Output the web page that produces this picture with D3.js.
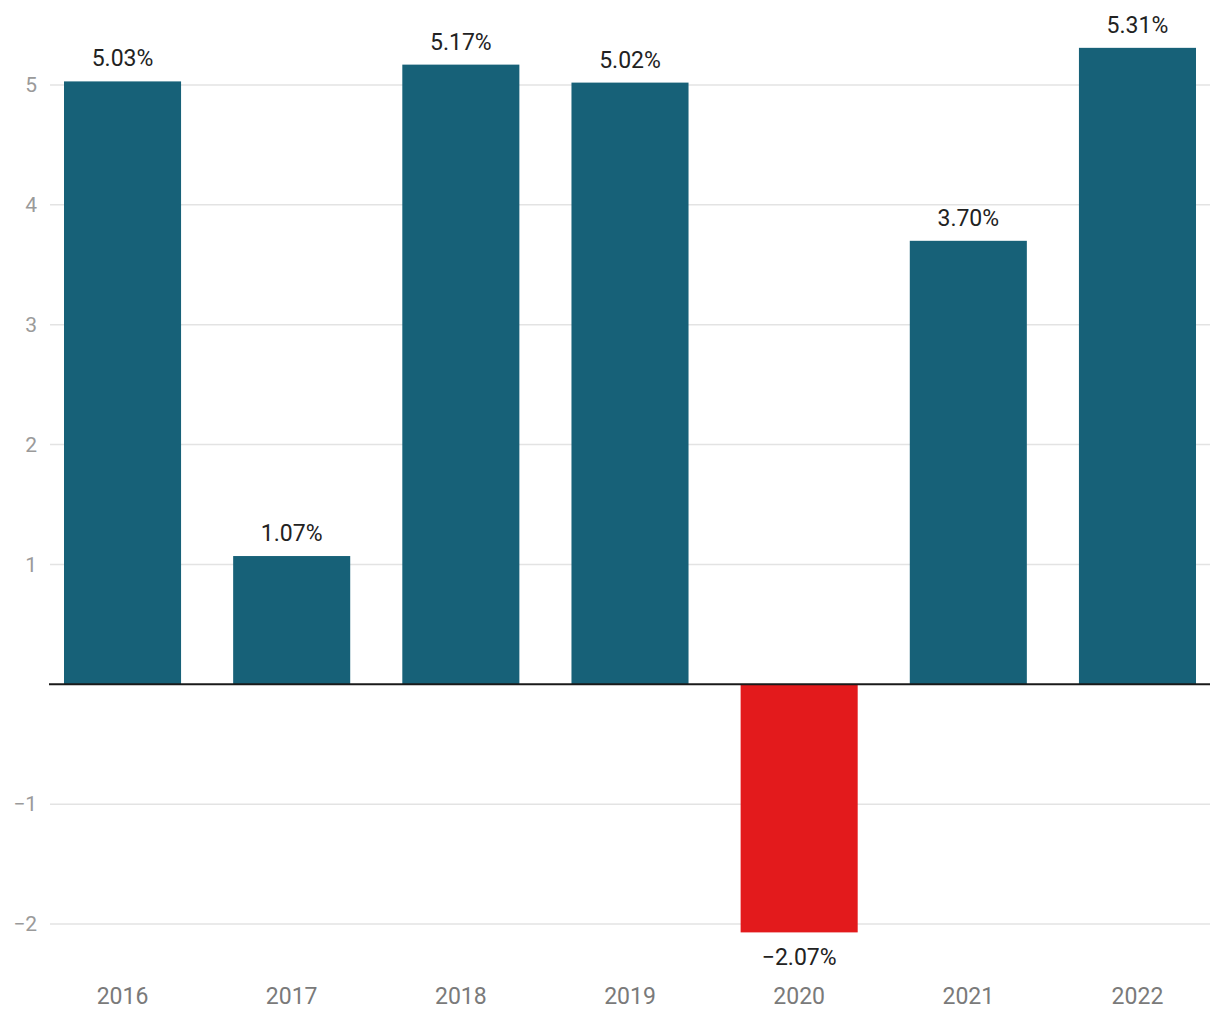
<!DOCTYPE html>
<html>
<head>
<meta charset="utf-8">
<script src="https://cdn.jsdelivr.net/npm/d3@7"></script>
<style>
  body { margin: 0; background: #fff; }
  svg text { font-family: Roboto, "Noto Sans", sans-serif; }
</style>
</head>
<body>
<div id="chart"></div>
<script>
var years = ["2016", "2017", "2018", "2019", "2020", "2021", "2022"];
var growth = [5.03, 1.07, 5.17, 5.02, -2.07, 3.70, 5.31];
var yTicks = [-2, -1, 1, 2, 3, 4, 5];

var width = 1220, height = 1020;

var svg = d3.select("#chart").append("svg")
  .attr("width", width)
  .attr("height", height);

var x = d3.scaleBand()
  .domain(years)
  .range([64, 1196])
  .paddingInner(0.308)
  .paddingOuter(0);

var y = d3.scaleLinear()
  .domain([-2, 5])
  .range([924, 85]);

// gridlines
svg.append("g")
  .selectAll("line")
  .data(yTicks)
  .enter().append("line")
  .attr("x1", 50)
  .attr("x2", 1210)
  .attr("y1", function(d) { return y(d); })
  .attr("y2", function(d) { return y(d); })
  .attr("stroke", "#e3e3e3")
  .attr("stroke-width", 1.5);

// y labels
svg.append("g")
  .selectAll("text")
  .data(yTicks)
  .enter().append("text")
  .attr("x", 37)
  .attr("y", function(d) { return y(d); })
  .attr("dy", "0.35em")
  .attr("text-anchor", "end")
  .attr("fill", "#9a9a9a")
  .style("font-size", "21px")
  .text(function(d) { return d < 0 ? "\u2212" + Math.abs(d) : d; });

// bars
svg.append("g")
  .selectAll("rect")
  .data(years)
  .enter().append("rect")
  .attr("x", function(d) { return x(d); })
  .attr("width", x.bandwidth())
  .attr("y", function(d, i) { return y(Math.max(0, growth[i])); })
  .attr("height", function(d, i) { return Math.abs(y(growth[i]) - y(0)); })
  .attr("fill", function(d, i) { return growth[i] < 0 ? "#e31a1c" : "#176178"; });

// zero line
svg.append("line")
  .attr("x1", 49)
  .attr("x2", 1210)
  .attr("y1", y(0))
  .attr("y2", y(0))
  .attr("stroke", "#1a1a1a")
  .attr("stroke-width", 2);

// value labels
svg.append("g")
  .selectAll("text")
  .data(years)
  .enter().append("text")
  .attr("x", function(d) { return x(d) + x.bandwidth() / 2; })
  .attr("y", function(d, i) { return growth[i] < 0 ? y(growth[i]) + 33 : y(growth[i]) - 15; })
  .attr("text-anchor", "middle")
  .attr("fill", "#222")
  .style("font-size", "23px")
  .text(function(d, i) {
    var v = growth[i];
    return (v < 0 ? "\u2212" : "") + Math.abs(v).toFixed(2) + "%";
  });

// x labels
svg.append("g")
  .selectAll("text")
  .data(years)
  .enter().append("text")
  .attr("x", function(d) { return x(d) + x.bandwidth() / 2; })
  .attr("y", 1004)
  .attr("text-anchor", "middle")
  .attr("fill", "#7a7a7a")
  .style("font-size", "23px")
  .text(function(d) { return d; });
</script>
</body>
</html>
